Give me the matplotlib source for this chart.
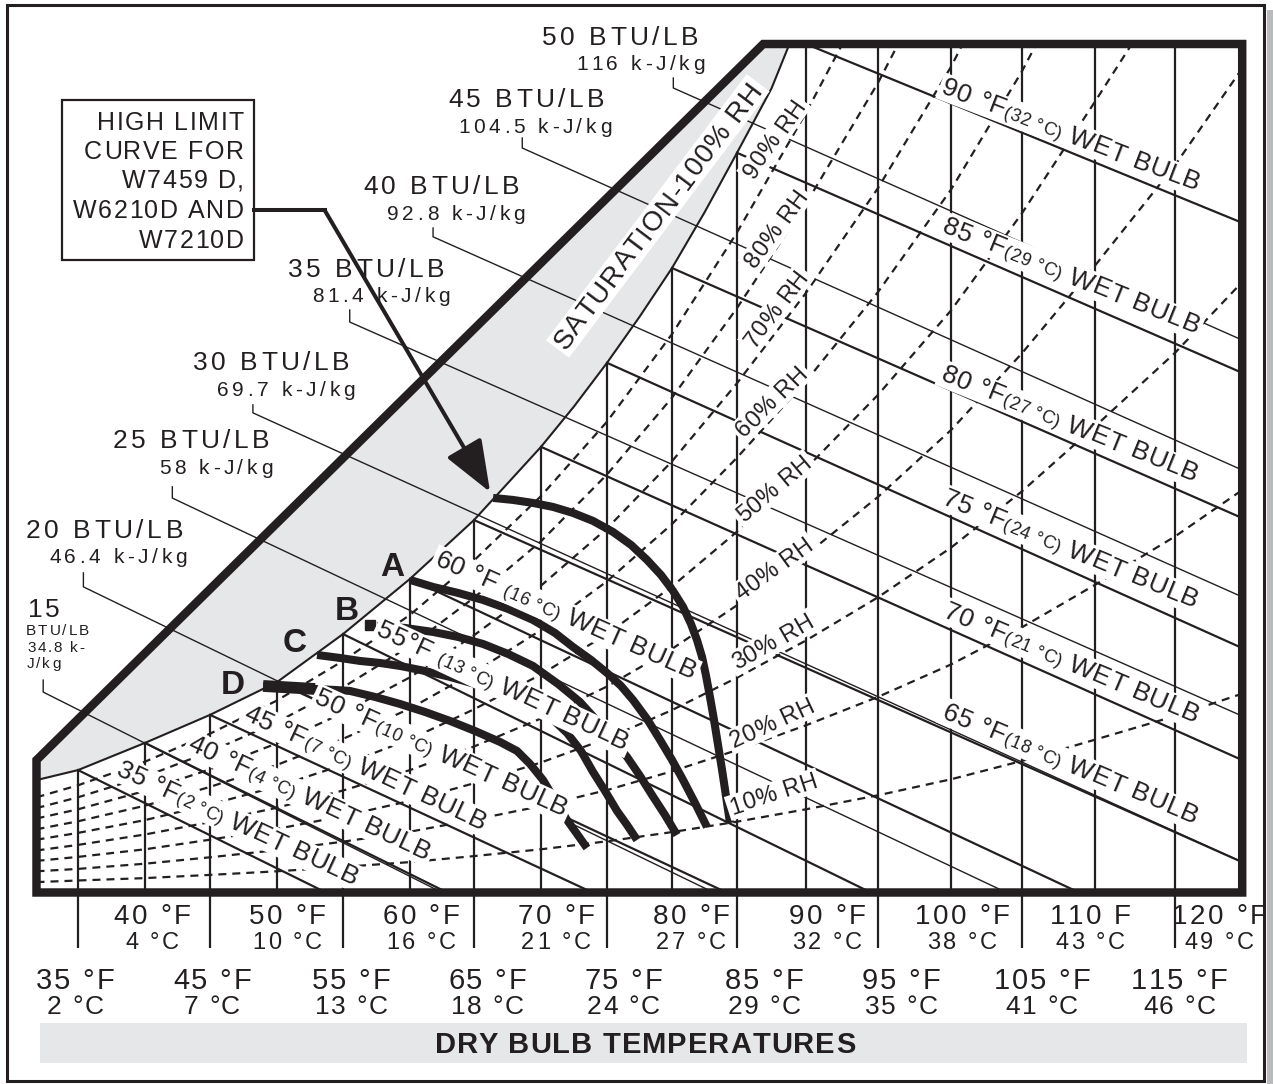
import numpy as np
import matplotlib
matplotlib.use('Agg')
import matplotlib.pyplot as plt
from matplotlib.font_manager import FontProperties
from matplotlib.transforms import IdentityTransform
from matplotlib.patches import Polygon, Rectangle

FONT = 'Liberation Sans'
INK = '#231f20'
BAND = '#e6e7e8'
W_PX, H_PX, DPI = 1273, 1084, 100

# ---- chart values: dry bulb in deg F, moisture in grains per lb of dry air ----
T_MIN, T_MAX, W_MAX = 31.9, 119.2, 212.1

# saturation (100% RH) curve
sat_T = [31.9, 35, 40, 45, 50, 55, 60, 65, 70, 72.5, 75, 77.5, 80, 82.5, 85, 87.5, 88.8]
sat_W = [28.1, 30.6, 37.4, 44.4, 52.6, 64.6, 78.4, 93.1, 111.4, 121.5, 132.4, 143.9,
         156.1, 170.0, 184.9, 201.0, 212.1]

# heavy boundary above the saturation band
edge_T = [31.9, 86.9]
edge_W = [33.1, 212.1]

db_T = list(range(35, 120, 5))

# wet bulb lines
wb_T = [35, 40, 45, 50, 55, 60, 65, 70, 75, 80, 85, 90]
wb_head = ['35 °F', '40 °F', '45 °F', '50 °F', '55°F ', '60 °F ', '65 °F', '70 °F',
           '75 °F', '80 °F', '85 °F', '90 °F']
wb_C = ['2', '4', '7', '10', '13', '16', '18', '21', '24', '27', '29', '32']
wb_end_T = [53.7, 62.9, 73.9, 84.2, 94.5, 108.9, 119.2, 119.2, 119.2, 119.2, 119.2, 119.2]
wb_end_W = [0, 0, 0, 0, 0, 0, 7.6, 33.1, 61.1, 93.6, 129.9, 167.4]
wb_lab_T = [47.1, 52.5, 56.7, 62.5, 67.2, 71.9, 108.35, 108.4, 108.35, 108.3, 108.4, 108.4]
wb_lab_W = [17.6, 23.9, 31.4, 35.1, 51.9, 69.6, 32.4, 57.6, 86.1, 117.4, 154.4, 189.6]
wb_lab_ang = [25, 25, 25, 24.5, 25, 24, 23, 23, 22.5, 22, 22, 21]

# relative humidity lines
rh_T = [31.9, 35, 40, 45, 50, 55, 60, 65, 70, 75, 80, 85, 90, 95, 100, 105, 110, 115, 119.2]
rh10 = [2.6, 3.0, 3.6, 4.4, 5.3, 6.4, 7.6, 9.1, 10.8, 12.8, 15.1, 17.7, 20.8, 24.3, 28.3,
        32.9, 38.2, 44.1, 49.7]
rh20 = [5.3, 5.9, 7.2, 8.8, 10.6, 12.7, 15.2, 18.2, 21.6, 25.6, 30.3, 35.6, 41.8, 48.9,
        57.0, 66.3, 76.9, 89.0, 100.6]
rh30 = [7.9, 8.9, 10.8, 13.2, 15.9, 19.1, 22.9, 27.3, 32.5, 38.5, 45.6, 53.7, 63.0, 73.8,
        86.2, 100.3, 116.5, 134.9, 152.6]
rh40 = [10.5, 11.9, 14.5, 17.6, 21.2, 25.5, 30.6, 36.5, 43.5, 51.5, 60.9, 71.8, 84.4, 98.9,
        115.6, 134.8, 156.7, 181.8, 206.0]
rh50 = [13.2, 14.9, 18.1, 22.0, 26.5, 31.9, 38.3, 45.8, 54.5, 64.6, 76.5, 90.2, 106.0,
        124.4, 145.5, 169.8, 197.7, 229.0]
rh60 = [15.8, 17.8, 21.7, 26.4, 31.9, 38.4, 46.0, 55.0, 65.6, 77.8, 92.1, 108.7, 127.8,
        150.1, 175.7, 205.3, 240.0]
rh70 = [18.5, 20.8, 25.4, 30.8, 37.3, 44.9, 53.8, 64.3, 76.7, 91.0, 107.8, 127.3, 149.9,
        176.1, 206.4, 241.0]
rh80 = [21.1, 23.8, 29.0, 35.2, 42.6, 51.3, 61.6, 73.7, 87.8, 104.5, 123.7, 146.1, 172.2,
        202.4, 237.5]
rh90 = [23.8, 26.8, 32.7, 39.7, 48.0, 57.9, 69.4, 83.0, 99.1, 117.7, 139.6, 165.0, 194.9,
        229.0]
rh_pct = [10, 20, 30, 40, 50, 60, 70, 80, 90]
rh_lab_T = [87.6, 87.5, 87.5, 87.6, 87.6, 87.4, 87.75, 87.75, 87.6]
rh_lab_W = [24.9, 42.6, 62.9, 81.1, 101.1, 122.9, 146.1, 166.1, 188.6]
rh_lab_ang = [18, 25, 30, 36, 40, 45, 53, 54, 55]

# enthalpy lines with their leaders
btu = [15, 20, 25, 30, 35, 40, 45, 50]
kj = ['34.8', '46.4', '58', '69.7', '81.4', '92.8', '104.5', '116']
en_T = [32.4, 35.4, 42.1, 48.2, 55.5, 61.8, 68.6, 80.1]
en_top_W = [53.1, 79.9, 101.4, 121.9, 145.6, 166.1, 188.6, 203.6]
en_elbow_W = [50.1, 76.4, 98.6, 119.9, 142.6, 163.9, 186.1, 201.1]
en_end_T = [62.5, 83.2, 103.9, 119.2, 119.2, 119.2, 119.2, 119.2]
en_end_W = [0, 0, 0, 7.6, 44.1, 73.9, 105.6, 138.1]

# high limit curves
hl_T = [66.42, 67.91, 69.40, 70.91, 72.42, 73.94, 75.46, 76.85, 78.08, 79.15, 80.08, 80.85,
        81.46, 81.92, 82.31, 82.62, 82.92, 83.23, 83.54, 83.85, 84.15, 84.46]
hl_W = [98.63, 98.13, 97.38, 96.38, 94.88, 92.88, 90.13, 86.88, 83.13, 79.38, 75.38, 71.38,
        67.13, 63.13, 58.88, 54.13, 48.88, 43.13, 36.88, 30.63, 24.13, 17.38]
a_T = [60.00, 61.80, 63.75, 65.67, 67.54, 69.40, 71.06, 72.42, 73.79, 75.00, 76.08, 77.00,
       78.08, 79.08, 80.00, 80.85, 81.77, 82.69]
a_W = [78.13, 76.38, 74.88, 73.13, 70.88, 68.13, 64.88, 61.38, 58.13, 54.88, 51.63, 48.13,
       43.38, 38.13, 33.13, 28.13, 22.38, 16.38]
b_T = [57.54, 59.63, 61.80, 63.75, 65.67, 67.54, 69.40, 71.29, 72.95, 74.32, 75.46, 76.54,
       77.54, 78.46, 79.46, 80.38]
b_W = [66.63, 66.13, 65.13, 63.88, 62.13, 59.63, 56.63, 52.13, 47.63, 42.63, 38.13, 33.88,
       29.13, 24.38, 19.38, 14.38]
c_T = [53.03, 54.77, 56.27, 57.76, 59.25, 61.17, 63.13, 65.07, 66.94, 68.96, 70.53, 71.97,
       73.03, 73.94, 74.85, 75.77, 76.54, 77.31]
c_W = [59.38, 58.63, 57.88, 57.38, 56.63, 55.38, 53.88, 52.13, 50.13, 47.63, 44.38, 39.88,
       35.38, 30.13, 25.38, 20.38, 16.88, 13.13]
d_T = [48.96, 52.88, 54.39, 55.52, 57.39, 59.25, 61.17, 63.13, 65.07, 66.94, 68.21, 69.18,
       70.15, 71.06, 71.97, 72.73, 73.48]
d_W = [51.63, 50.88, 50.63, 50.38, 48.88, 47.13, 45.13, 42.88, 40.38, 37.63, 35.38, 32.13,
       28.13, 23.13, 18.13, 14.63, 11.13]
curve_names = ['A', 'B', 'C', 'D']
curve_lab_T = [58.7, 55.3, 51.3, 46.7]
curve_lab_W = [81.9, 70.9, 63.1, 52.4]

# axis labels under the chart
upper_F = ['40 °F', '50 °F', '60 °F', '70 °F', '80 °F', '90 °F', '100 °F', '110 F', '120 °F']
upper_C = ['4 °C', '10 °C', '16 °C', '21 °C', '27 °C', '32 °C', '38 °C', '43 °C', '49 °C']
lower_F = ['35 °F', '45 °F', '55 °F', '65 °F', '75 °F', '85 °F', '95 °F', '105 °F', '115 °F']
lower_C = ['2 °C', '7 °C', '13 °C', '18 °C', '24 °C', '29 °C', '35 °C', '41 °C', '46 °C']

# ---- figure and the stretched dry bulb scale ----
knot_T = list(range(30, 130, 5))
knot_px = [11, 78, 145, 210, 277, 343, 410, 474, 541, 607, 672, 737, 806, 878, 951, 1022,
           1095, 1175, 1255, 1335]


def fwd(t):
    return np.interp(t, knot_T, knot_px)


def inv(p):
    return np.interp(p, knot_px, knot_T)


fig = plt.figure(figsize=(W_PX / DPI, H_PX / DPI), dpi=DPI)
ax = fig.add_axes([36.5 / W_PX, 1 - 892.5 / H_PX, (1242.2 - 36.5) / W_PX, (892.5 - 44) / H_PX])
ax.set_xscale('function', functions=(fwd, inv))
ax.set_xlim(T_MIN, T_MAX)
ax.set_ylim(0, W_MAX)
ax.axis('off')

renderer = fig.canvas.get_renderer()
_adv = {}


def advance(ch, fp):
    key = (ch, fp.get_size_in_points(), fp.get_weight())
    if key not in _adv:
        a = renderer.get_text_width_height_descent('H' + ch + 'H', fp, ismath=False)[0]
        b = renderer.get_text_width_height_descent('HH', fp, ismath=False)[0]
        _adv[key] = a - b
    return _adv[key]


def put(x, y, parts, trans=None, angle=0.0, track=0.0, ha='center', va='center',
        weight='normal', box=False, z=6):
    # letter-spaced text; (x, y) in page pixels from top-left unless a transform is given
    if trans is None:
        ox, oy = x, H_PX - y
    else:
        ox, oy = trans.transform((x, y))
    th = np.deg2rad(angle)
    u = np.array([np.cos(th), np.sin(th)])
    n = np.array([-np.sin(th), np.cos(th)])
    glyphs, pos, em = [], 0.0, 0.0
    for s, size in parts:
        fp = FontProperties(family=FONT, size=size, weight=weight)
        em = max(em, size * DPI / 72)
        for ch in s:
            glyphs.append((ch, fp, pos))
            pos += advance(ch, fp) + track
    total = pos - track
    cap = 0.69 * em
    s0 = {'left': 0.0, 'center': -total / 2, 'right': -total}[ha]
    t0 = {'baseline': 0.0, 'center': -cap / 2}[va]
    base = np.array([ox, oy]) + u * s0 + n * t0
    if box:
        p = 3.0
        corners = [base + u * a + n * b for a, b in
                   ((-p, -0.2 * em - 1), (total + p, -0.2 * em - 1),
                    (total + p, cap + p), (-p, cap + p))]
        ax.add_patch(Polygon(corners, closed=True, facecolor='white', edgecolor='none',
                             transform=IdentityTransform(), clip_on=False, zorder=z - 0.5))
    for ch, fp, s in glyphs:
        if ch == ' ':
            continue
        q = base + u * s
        ax.text(q[0], q[1], ch, fontproperties=fp, color=INK, rotation=angle,
                rotation_mode='anchor', ha='left', va='baseline',
                transform=IdentityTransform(), clip_on=False, zorder=z)


def page_rect(x0, y0, x1, y1, **kw):
    ax.add_patch(Rectangle((x0, H_PX - y1), x1 - x0, y1 - y0,
                           transform=IdentityTransform(), clip_on=False, **kw))


# outer border with its shadow
page_rect(1267, 10, 1273, 1084, facecolor='#b9babc', edgecolor='none', zorder=0)
page_rect(7, 5, 1264, 1081, fill=False, edgecolor=INK, linewidth=2.2, zorder=0.5)

# saturation band
band_x = edge_T + [sat_T[-1]] + sat_T[::-1]
band_y = edge_W + [sat_W[-1]] + sat_W[::-1]
ax.fill(band_x, band_y, color=BAND, lw=0, zorder=1)

# dry bulb lines up to saturation, with the long ticks below the chart
db_top = np.interp(db_T, sat_T, sat_W)
ax.vlines(db_T, 0, db_top, colors=INK, lw=1.6, zorder=2)
ax.vlines(db_T[::2], -(948 - 892.5) / 848.5, 0, transform=ax.get_xaxis_transform(),
          colors=INK, lw=1.6, clip_on=False, zorder=2)

# relative humidity (dashed)
for arr in [rh10, rh20, rh30, rh40, rh50, rh60, rh70, rh80, rh90]:
    ax.plot(rh_T[:len(arr)], arr, color=INK, lw=1.6, ls=(0, (3.6, 2.7)), zorder=2)

# wet bulb lines
wb_start = np.interp(wb_T, sat_T, sat_W)
for t, w0, t1, w1 in zip(wb_T, wb_start, wb_end_T, wb_end_W):
    ax.plot([t, t1], [w0, w1], color=INK, lw=1.6, zorder=2)

# enthalpy lines
for t, wt, we, t1, w1 in zip(en_T, en_top_W, en_elbow_W, en_end_T, en_end_W):
    ax.plot([t, t, t1], [wt, we, w1], color=INK, lw=1.0, zorder=2)

ax.plot(sat_T, sat_W, color=INK, lw=1.5, zorder=2.5)

# high limit curves
for xs, ys in [(hl_T, hl_W), (a_T, a_W), (b_T, b_W), (c_T, c_W), (d_T, d_W)]:
    ax.plot(xs, ys, color=INK, lw=5.8, solid_capstyle='butt', solid_joinstyle='round', zorder=3)
ax.plot(d_T[:2], d_W[:2], color=INK, lw=8.5, solid_capstyle='butt', zorder=3)
ax.plot([b_T[0] - 0.5], [b_W[0] + 0.3], marker='s', ms=6.5, color=INK, zorder=3)

# chart frame with the cut corner
frame = [(T_MIN, edge_W[0]), (T_MIN, 0), (T_MAX, 0), (T_MAX, W_MAX), (edge_T[1], W_MAX)]
ax.add_patch(Polygon(frame, closed=True, fill=False, edgecolor=INK, lw=6.1,
                     joinstyle='miter', clip_on=False, zorder=7))

# ---- labels ----
for i in range(len(wb_T)):
    put(wb_lab_T[i], wb_lab_W[i],
        [(wb_head[i], 19), ('(' + wb_C[i] + ' °C)', 13), (' WET BULB', 19)],
        trans=ax.transData, angle=-wb_lab_ang[i], track=0.6, box=True, z=5)

for p, t, w, a in zip(rh_pct, rh_lab_T, rh_lab_W, rh_lab_ang):
    put(t, w, [(f'{p}% RH', 17)], trans=ax.transData, angle=a, track=0.4, box=True, z=5)

put(78.8, 169.4, [('SATURATION-100% RH', 20)], trans=ax.transData, angle=53,
    track=1.2, box=True, z=5)

for name, t, w in zip(curve_names, curve_lab_T, curve_lab_W):
    put(t, w, [(name, 24)], trans=ax.transData, weight='bold', z=6)

# enthalpy captions
big_pos = [(542, 45), (448, 107), (363, 194), (288, 277), (193, 370), (113, 448), (26, 538)]
small_pos = [(576, 70), (458, 133), (387, 220), (312, 302), (217, 396), (159, 474), (49, 563)]
for k, (b, s) in enumerate(zip(btu[::-1][:7], kj[::-1][:7])):
    put(*big_pos[k], [(f'{b} BTU/LB', 19)], ha='left', va='baseline', track=3.5)
    put(*small_pos[k], [(f'{s} k-J/kg', 15)], ha='left', va='baseline', track=3.6)
put(28, 617, [(str(btu[0]), 19)], ha='left', va='baseline', track=2)
put(26, 635, [('BTU/LB', 11)], ha='left', va='baseline', track=2)
put(27, 652, [(kj[0] + ' k-', 11)], ha='left', va='baseline', track=1.8)
put(27, 668, [('J/kg', 11)], ha='left', va='baseline', track=1.8)

# high limit call-out
page_rect(62, 100, 254, 260, fill=False, edgecolor=INK, linewidth=1.6, zorder=6)
for txt, yb in zip(['HIGH LIMIT', 'CURVE FOR', 'W7459 D,', 'W6210D AND', 'W7210D'],
                   [130, 159, 188, 218, 248]):
    put(244, yb, [(txt, 18)], ha='right', va='baseline', track=1.6)
ax.plot([48.3, 53.6], [170.6, 170.6], color=INK, lw=2.9, solid_capstyle='projecting',
        clip_on=False, zorder=8)
ax.annotate('', xy=(66.2, 100.1), xytext=(53.6, 170.6),
            arrowprops=dict(arrowstyle='-|>,head_length=1.6,head_width=0.62', lw=2.9,
                            color=INK, shrinkA=0, shrinkB=0, mutation_scale=20),
            zorder=8)

# dry bulb captions
for f, c, x in zip(upper_F, upper_C, [152, 287, 421, 556, 691, 827, 962, 1090, 1219]):
    put(x, 924, [(f, 20)], va='baseline', track=2.5)
    put(x, 949, [(c, 17)], va='baseline', track=2.5)
for f, c, x in zip(lower_F, lower_C, [75, 212, 351, 487, 623, 764, 901, 1042, 1179]):
    put(x, 989, [(f, 21)], va='baseline', track=2)
    put(x, 1014, [(c, 19)], va='baseline', track=1.5)

page_rect(40, 1023, 1247, 1063, facecolor=BAND, edgecolor='none', zorder=1)
put(645, 1043, [('DRY BULB TEMPERATURES', 21)], weight='bold', track=1)

fig.savefig('out.png', dpi=DPI, facecolor='white')
